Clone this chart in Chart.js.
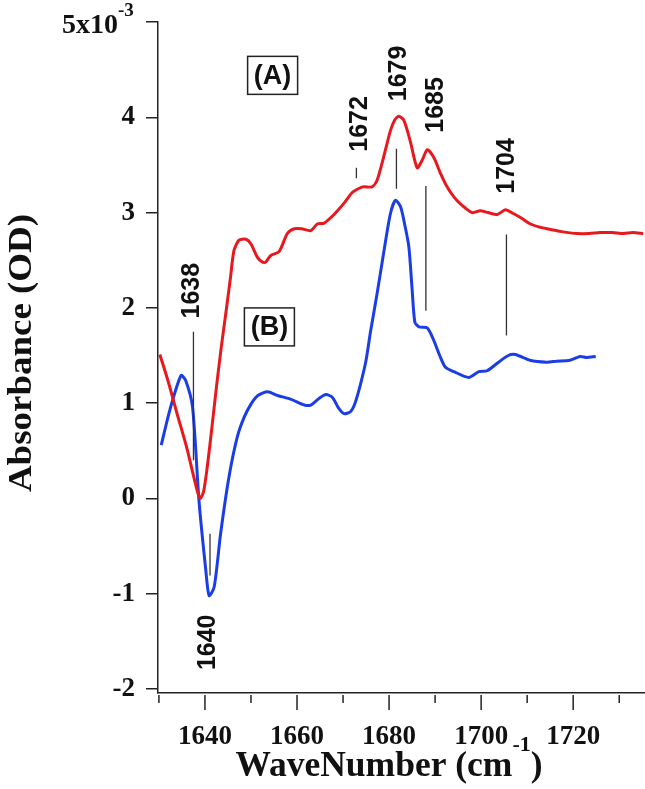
<!DOCTYPE html>
<html>
<head>
<meta charset="utf-8">
<script src="https://cdn.jsdelivr.net/npm/chart.js@4.4.1/dist/chart.umd.min.js"></script>
<style>
  body { margin: 0; background: #fff; }
</style>
</head>
<body>
<canvas id="chart" width="645" height="789"></canvas>
<script>
// Spectrum (A), red
const redX = [1630.2,1632,1634,1636,1637.5,1638.5,1639,1639.7,1640.5,1641.5,1642.5,1643.5,1644.5,1645.5,1646.3,1647.4,1648.9,1650,1651.4,1652.5,1653.2,1654.3,1656.1,1657.9,1659.4,1661,1663,1664.4,1665.9,1667.4,1668.8,1670.4,1672,1673.3,1674.5,1676.3,1677.4,1678.8,1680.3,1681.2,1682.1,1683.2,1684.6,1686.1,1687.2,1688.3,1689.7,1691.1,1692.6,1694,1695.5,1698,1699.8,1701.5,1703.5,1705.3,1707,1708.8,1710.7,1712.5,1714.3,1717.5,1720.8,1723.5,1725.8,1728.5,1730.9,1733,1735.2];
const redY = [1.51,1.23,0.88,0.54,0.24,0.05,0.0,0.07,0.33,0.74,1.17,1.57,1.93,2.3,2.6,2.71,2.72,2.67,2.53,2.48,2.48,2.55,2.59,2.78,2.83,2.83,2.81,2.88,2.89,2.95,3.02,3.11,3.21,3.25,3.27,3.27,3.34,3.58,3.86,3.97,4.01,3.97,3.75,3.47,3.55,3.66,3.58,3.42,3.27,3.17,3.09,3.0,3.02,3.0,2.98,3.03,2.99,2.94,2.88,2.85,2.83,2.8,2.78,2.78,2.79,2.79,2.78,2.79,2.78];

// Spectrum (B), blue
const blueX = [1630.5,1632.5,1634.8,1635.8,1637.3,1638.7,1640.2,1640.9,1642,1643.4,1645.2,1647,1648.5,1650,1651.5,1653.6,1655.8,1658.7,1661.6,1663,1664.8,1666.3,1667.7,1669,1670.2,1671.6,1672.6,1673.8,1675,1676,1677.4,1678.9,1680.3,1681.4,1682.5,1683.5,1684.3,1685,1685.6,1686.5,1688.3,1689.7,1691,1692.2,1694.1,1697.3,1699.5,1701.3,1703.8,1705.9,1707.4,1710.6,1714.2,1716.4,1719.3,1721.5,1722.9,1724.9];
const blueY = [0.56,0.95,1.29,1.24,0.96,-0.02,-0.76,-1.02,-0.93,-0.37,0.22,0.64,0.85,0.99,1.08,1.12,1.08,1.04,0.98,0.98,1.05,1.09,1.06,0.95,0.89,0.91,1.0,1.2,1.45,1.76,2.15,2.6,2.99,3.13,3.06,2.85,2.64,2.2,1.85,1.80,1.79,1.66,1.5,1.38,1.33,1.27,1.33,1.34,1.43,1.50,1.51,1.45,1.43,1.44,1.45,1.49,1.48,1.49];

// peak markers
const peakText = ['1638', '1640', '1672', '1679', '1685', '1704'];
const peakLineX = [1637.5, 1641.1, 1672.9, 1681.6, 1688.0, 1705.5];
const peakLineTop = [1.75, -0.37, 3.47, 3.67, 3.28, 2.77];
const peakLineBottom = [0.40, -0.81, 3.36, 3.25, 1.97, 1.71];
const peakLabelX = [1637.1, 1640.5, 1673.5, 1682.0, 1689.9, 1705.5];
const peakLabelY = [2.18, -1.51, 3.93, 4.46, 4.13, 3.49];

// boxed curve names
const boxText = ['(A)', '(B)'];
const boxX = [1654.7, 1654.0];
const boxY = [4.44, 1.80];

// axis ticks
const xTickLabels = [1640, 1660, 1680, 1700, 1720];
const xMinorTicks = [1630, 1650, 1670, 1690, 1710, 1730];
const yTickLabels = [-2, -1, 0, 1, 2, 3, 4];

const serif = '"Liberation Serif", "Times New Roman", serif';
const sans = '"Liberation Sans", Arial, sans-serif';

function toPoints(xs, ys) {
    return xs.map((x, i) => ({ x: x, y: ys[i] }));
}

const extras = {
    id: 'extras',
    afterDraw(chart) {
        const ctx = chart.ctx;
        const xs = chart.scales.x;
        const ys = chart.scales.y;
        const area = chart.chartArea;

        ctx.save();
        // x tick marks, long on labelled values
        ctx.strokeStyle = '#222';
        ctx.lineWidth = 1.5;
        xTickLabels.concat(xMinorTicks).forEach(v => {
            const px = xs.getPixelForValue(v);
            const len = xTickLabels.includes(v) ? 15 : 8;
            ctx.beginPath();
            ctx.moveTo(px, area.bottom + 2);
            ctx.lineTo(px, area.bottom + 2 + len);
            ctx.stroke();
        });

        // peak marker lines
        ctx.strokeStyle = '#333';
        ctx.lineWidth = 1.3;
        peakLineX.forEach((v, i) => {
            const px = xs.getPixelForValue(v);
            ctx.beginPath();
            ctx.moveTo(px, ys.getPixelForValue(peakLineTop[i]));
            ctx.lineTo(px, ys.getPixelForValue(peakLineBottom[i]));
            ctx.stroke();
        });

        // peak labels, rotated
        ctx.fillStyle = '#111';
        ctx.font = 'bold 25px ' + sans;
        ctx.textAlign = 'center';
        ctx.textBaseline = 'middle';
        peakText.forEach((t, i) => {
            ctx.save();
            ctx.translate(xs.getPixelForValue(peakLabelX[i]), ys.getPixelForValue(peakLabelY[i]));
            ctx.rotate(-Math.PI / 2);
            ctx.fillText(t, 0, 1);
            ctx.restore();
        });

        // (A) and (B) boxes
        ctx.font = 'bold 27px ' + sans;
        ctx.lineWidth = 1.5;
        ctx.strokeStyle = '#222';
        boxText.forEach((t, i) => {
            const cx = xs.getPixelForValue(boxX[i]);
            const cy = ys.getPixelForValue(boxY[i]);
            ctx.strokeRect(cx - 25, cy - 19, 50, 38);
            ctx.fillText(t, cx, cy + 1);
        });

        // top tick label 5x10^-3
        const top = ys.getPixelForValue(5);
        ctx.textAlign = 'right';
        ctx.textBaseline = 'alphabetic';
        ctx.font = 'bold 28px ' + serif;
        ctx.fillText('5x10', 118, top + 11);
        ctx.textAlign = 'left';
        ctx.font = 'bold 19px ' + serif;
        ctx.fillText('-3', 118, top - 6);

        // y title, stretched a little along its length
        ctx.save();
        ctx.translate(22, 353);
        ctx.rotate(-Math.PI / 2);
        ctx.scale(1.12, 1);
        ctx.textAlign = 'center';
        ctx.textBaseline = 'middle';
        ctx.font = 'bold 33px ' + serif;
        ctx.fillText('Absorbance (OD)', 0, 0);
        ctx.restore();

        // x title with superscript
        const main = 'WaveNumber (cm';
        const sup = '-1';
        const close = ')';
        ctx.font = 'bold 35.5px ' + serif;
        const w1 = ctx.measureText(main).width;
        const w3 = ctx.measureText(close).width;
        ctx.font = 'bold 22px ' + serif;
        const w2 = ctx.measureText(sup).width;
        let x0 = 389 - (w1 + w2 + w3) / 2;
        ctx.textAlign = 'left';
        ctx.font = 'bold 35.5px ' + serif;
        ctx.fillText(main, x0, 776);
        ctx.font = 'bold 22px ' + serif;
        ctx.fillText(sup, x0 + w1, 751);
        ctx.font = 'bold 35.5px ' + serif;
        ctx.fillText(close, x0 + w1 + w2, 776);
        ctx.restore();
    }
};

const ctx = document.getElementById('chart').getContext('2d');
new Chart(ctx, {
    type: 'line',
    data: {
        datasets: [{
            label: '(A)',
            data: toPoints(redX, redY),
            borderColor: '#e8191e',
            borderWidth: 3,
            pointRadius: 0,
            tension: 0.25,
            fill: false
        }, {
            label: '(B)',
            data: toPoints(blueX, blueY),
            borderColor: '#1a3de6',
            borderWidth: 3,
            pointRadius: 0,
            tension: 0.25,
            fill: false
        }]
    },
    options: {
        responsive: false,
        animation: false,
        layout: { padding: { top: 22, right: 0, left: 0, bottom: 0 } },
        plugins: {
            legend: { display: false },
            tooltip: { enabled: false }
        },
        scales: {
            x: {
                type: 'linear',
                min: 1629.8,
                max: 1735.6,
                afterFit: s => { s.height = 96; s.paddingLeft = 0; s.paddingRight = 0; },
                grid: { display: false },
                border: { color: '#222', width: 1.5 },
                ticks: {
                    stepSize: 10,
                    autoSkip: false,
                    includeBounds: false,
                    maxRotation: 0,
                    padding: 20,
                    color: '#111',
                    font: { family: serif, weight: 'bold', size: 27 },
                    callback: v => xTickLabels.includes(Math.round(v)) ? String(Math.round(v)) : ''
                }
            },
            y: {
                min: -2.042,
                max: 5,
                afterFit: s => { s.width = 158; s.paddingTop = 0; s.paddingBottom = 0; },
                grid: { drawOnChartArea: false, tickLength: 12, color: '#222', lineWidth: 1.5 },
                border: { color: '#222', width: 1.5 },
                ticks: {
                    stepSize: 1,
                    includeBounds: false,
                    padding: 11,
                    color: '#111',
                    font: { family: serif, weight: 'bold', size: 27 },
                    callback: v => yTickLabels.includes(Math.round(v)) ? String(Math.round(v)) : ''
                }
            }
        }
    },
    plugins: [extras]
});
</script>
</body>
</html>
